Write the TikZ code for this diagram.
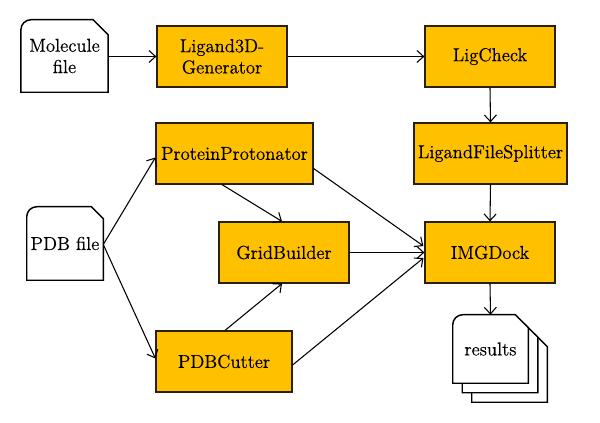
\documentclass[tikz,border=0pt]{standalone}
\usepackage{fontspec}
\setmainfont{Latin Modern Roman}[FakeBold=0.5]
\usetikzlibrary{arrows.meta,calc}
\definecolor{boxfill}{HTML}{FFC000}
\definecolor{boxline}{HTML}{2A2010}
\begin{document}
\begin{tikzpicture}[x=0.75pt,y=-0.75pt,
  font=\fontsize{14}{16}\selectfont,
  proc/.style={draw=boxline,line width=0.9pt,fill=boxfill,minimum height=45.75pt,inner sep=0pt,align=center},
  doc/.style={minimum width=#1,inner sep=0pt,align=center},
  docline/.style={draw=black,line width=1.1pt,fill=white,line join=miter},
  conn/.style={draw=black,line width=0.8pt,-{Straight Barb[length=5pt,width=9pt]}}]
\useasboundingbox (0,0) rectangle (600,423);
% documents (text placeholders)
\node[doc=65pt,minimum height=54pt] (mol) at (64.5,56) {};
\node[doc=57pt,minimum height=54.75pt] (pdb) at (65,243.5) {};
\node[doc=56.25pt,minimum height=51pt] (res) at (490.5,349) {};
% document outlines
\draw[docline] (mol.south west) -- ($(mol.north west)+(0,10)$) .. controls ($(mol.north west)+(0,4.5)$) and ($(mol.north west)+(4.5,0)$) .. ($(mol.north west)+(10,0)$) -- ($(mol.north east)+(-15,0)$) -- ($(mol.north east)+(0,15)$) -- (mol.south east) -- cycle;
\node[doc=65pt,minimum height=54pt] (moltext) at (mol.center) {Molecule\\file};
\draw[docline] (pdb.south west) -- ($(pdb.north west)+(0,10)$) .. controls ($(pdb.north west)+(0,4.5)$) and ($(pdb.north west)+(4.5,0)$) .. ($(pdb.north west)+(10,0)$) -- ($(pdb.north east)+(-12,0)$) -- ($(pdb.north east)+(0,12)$) -- (pdb.south east) -- cycle;
\node[doc=57pt,minimum height=54.75pt] (pdbtext) at (pdb.center) {PDB file};
\foreach \s in {19,9.5,0}{
  \draw[docline] ($(res.south west)+(\s,\s)$) -- ($(res.north west)+(\s,\s+10)$) .. controls ($(res.north west)+(\s,\s+4.5)$) and ($(res.north west)+(\s+4.5,\s)$) .. ($(res.north west)+(\s+10,\s)$) -- ($(res.north east)+(\s-13,\s)$) -- ($(res.north east)+(\s,\s+13)$) -- ($(res.south east)+(\s,\s)$) -- cycle;
}
\node (restext) at (res.center) {results};
% process boxes
\node[proc,minimum width=97.5pt] (lig3d) at (222,56.5) {Ligand3D-\\Generator};
\node[proc,minimum width=97.5pt] (ligcheck) at (490,56.5) {LigCheck};
\node[proc,minimum width=114.75pt] (split) at (490.5,153.5) {LigandFileSplitter};
\node[proc,minimum width=117.75pt] (prot) at (234.5,153.5) {ProteinProtonator};
\node[proc,minimum width=97.5pt] (grid) at (284,252.5) {GridBuilder};
\node[proc,minimum width=102pt] (cut) at (224,361.5) {PDBCutter};
\node[proc,minimum width=97.5pt] (dock) at (490,252.5) {IMGDock};
% connectors
\draw[conn] (mol.east |- lig3d.west) -- (lig3d.west);
\draw[conn] (lig3d.east) -- (ligcheck.west);
\draw[conn] (ligcheck.south) -- (split.north);
\draw[conn] (split.south) -- (dock.north);
\draw[conn] (dock.south) -- (res.north);
\coordinate (pdbout) at ($(pdb.east)+(0,1)$);
\draw[conn] (pdbout) -- ($(prot.west)+(0,4)$);
\draw[conn] (pdbout) -- ($(cut.west)+(0,-3)$);
\draw[conn] ($(prot.south)+(-12.5,0)$) -- ($(grid.north)+(-2,0)$);
\draw[conn] ($(cut.north)+(1,0)$) -- ($(grid.south)+(-2,0)$);
\draw[conn] ($(prot.east)+(0,15)$) -- ($(dock.west)+(-1,-6.5)$);
\draw[conn] (grid.east) -- (dock.west);
\draw[conn] ($(cut.east)+(0,3.5)$) -- ($(dock.west)+(-1,5.5)$);
\end{tikzpicture}
\end{document}
